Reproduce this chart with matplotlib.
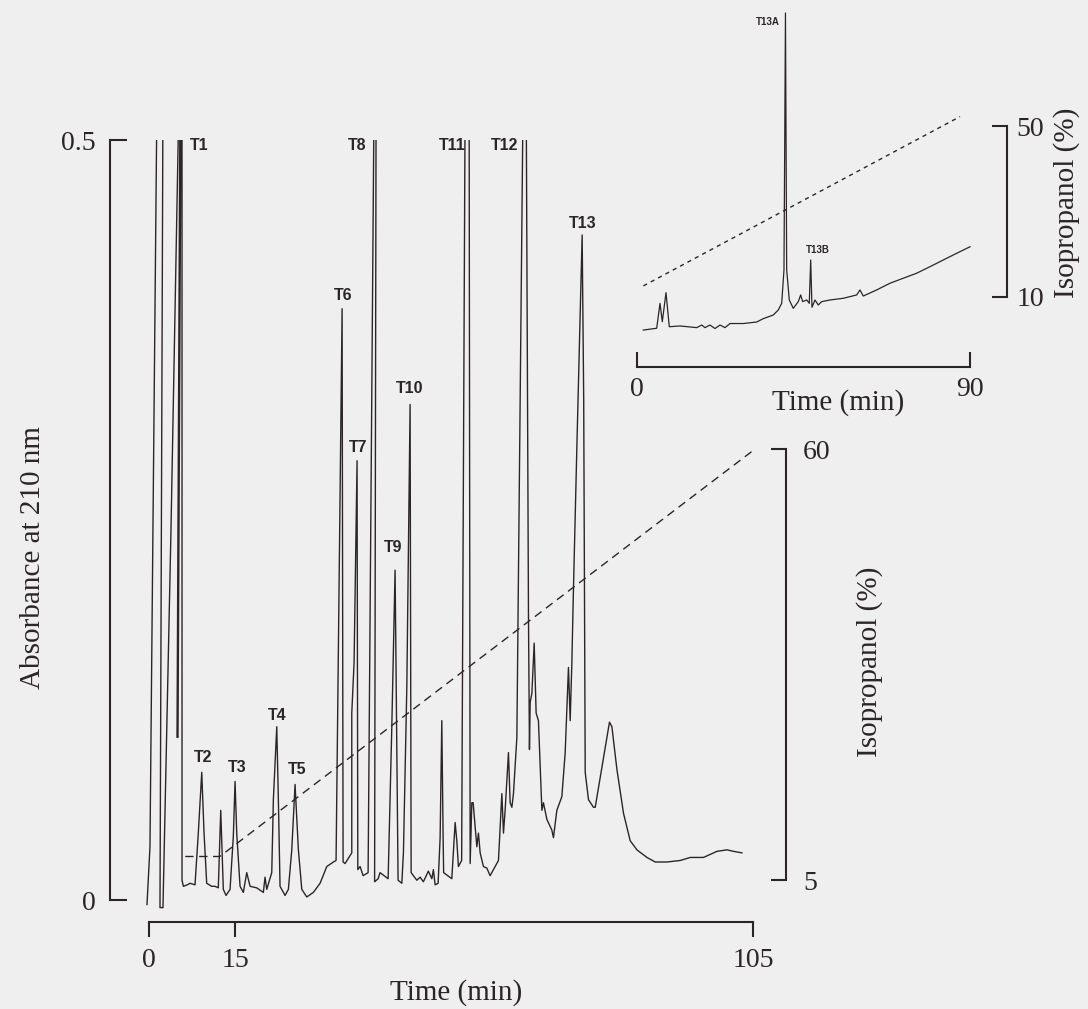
import numpy as np
import matplotlib
matplotlib.use('Agg')
import matplotlib.pyplot as plt

W, H = 1088, 1009
INK = '#2b2528'
BG = '#f0eff0'

# main run: time (min) / absorbance at 210 nm
# off-scale peaks are given as 0.53, the axes cut them at 0.5 like the recorder did
main_time = [-0.35, 0.17, 1.39, 2.43, 1.91, 2.43, 3.83, 5.22, 5.39, 4.87, 5.04, 5.57, 5.74, 5.74,
             5.98, 6.66, 7.13, 8.0, 8.57, 9.17, 9.57, 10.03, 10.9, 11.48, 12.05, 12.47, 12.92, 13.39,
             14.09, 14.66, 14.96, 15.25, 15.83, 16.4, 16.99, 17.57, 18.73, 19.88, 20.17, 20.47, 21.34,
             21.62, 22.21, 22.49, 22.78, 23.65, 24.23, 24.82, 25.39, 25.97, 26.56, 27.43, 28.57, 29.74,
             30.9, 32.05, 32.52, 33.57, 33.74, 34.09, 35.25, 35.25, 35.65, 36.17, 36.3, 36.7, 37.22,
             38.09, 39.13, 39.48, 39.22, 39.83, 40.17, 41.57, 42.21, 42.78, 43.08, 43.3, 43.95, 44.23,
             44.82, 45.39, 45.57, 46.56, 47.13, 47.7, 48.57, 49.17, 49.44, 49.74, 50.26, 50.61, 50.9,
             51.13, 51.22, 52.64, 53.22, 53.51, 53.79, 54.35, 54.96, 55.65, 55.83, 56.12, 56.35, 56.99,
             57.27, 57.57, 58.14, 58.73, 59.3, 60.17, 60.75, 61.34, 61.62, 61.91, 62.49, 62.78, 63.08,
             63.36, 63.95, 65.04, 65.57, 65.97, 66.14, 66.26, 66.56, 66.96, 67.3, 67.7, 68.3, 68.57,
             69.17, 70.03, 70.31, 70.9, 71.77, 72.35, 72.92, 73.22, 73.51, 73.74, 74.38, 75.3, 75.57,
             75.83, 76.4, 77.27, 77.57, 80.05, 80.47, 81.34, 82.49, 83.65, 84.82, 86.56, 88.0, 90.03,
             92.35, 94.09, 96.4, 98.73, 100.47, 101.63, 103.08]
main_abs = [-0.003, 0.035, 0.53, 0.53, -0.005, -0.005, 0.245, 0.53, 0.53, 0.107, 0.107, 0.53, 0.53, 0.013,
            0.009, 0.010, 0.011, 0.010, 0.044, 0.084, 0.044, 0.011, 0.009, 0.009, 0.008, 0.059, 0.007, 0.003,
            0.007, 0.042, 0.078, 0.044, 0.009, 0.005, 0.018, 0.009, 0.008, 0.005, 0.015, 0.007, 0.018,
            0.066, 0.114, 0.066, 0.009, 0.003, 0.007, 0.033, 0.076, 0.033, 0.007, 0.002, 0.005, 0.011,
            0.022, 0.025, 0.026, 0.389, 0.025, 0.024, 0.031, 0.123, 0.156, 0.289, 0.020, 0.022, 0.016,
            0.018, 0.53, 0.53, 0.012, 0.014, 0.018, 0.014, 0.114, 0.217, 0.097, 0.013, 0.011, 0.031,
            0.140, 0.326, 0.018, 0.013, 0.015, 0.012, 0.019, 0.014, 0.020, 0.010, 0.011, 0.041, 0.118,
            0.041, 0.018, 0.014, 0.051, 0.039, 0.022, 0.026, 0.53, 0.53, 0.024, 0.064, 0.064, 0.035,
            0.044, 0.031, 0.022, 0.021, 0.016, 0.022, 0.026, 0.070, 0.044, 0.059, 0.097, 0.064, 0.061,
            0.070, 0.107, 0.53, 0.53, 0.186, 0.099, 0.130, 0.136, 0.169, 0.123, 0.118, 0.059, 0.064,
            0.053, 0.046, 0.041, 0.059, 0.068, 0.097, 0.153, 0.118, 0.156, 0.197, 0.298, 0.4375, 0.329,
            0.084, 0.066, 0.061, 0.061, 0.117, 0.114, 0.086, 0.057, 0.039, 0.033, 0.028, 0.025, 0.025,
            0.026, 0.028, 0.028, 0.032, 0.033, 0.032, 0.031]
main_grad_time = [6.3, 12.3, 105]
main_grad_iso = [8.0, 8.0, 59.8]

# rechromatography of T13 (inset)
inset_time = [1.78, 5.4, 6.29, 6.91, 7.91, 8.8, 11.69, 16.2, 17.55, 18.44, 19.79, 21.14, 22.49,
              23.84, 25.19, 28.78, 32.4, 34.18, 36.88, 38.23, 39.15, 39.77, 40.17, 40.5, 41.2, 42.28,
              43.63, 44.28, 44.82, 45.9, 46.6, 46.98, 47.33, 48.14, 49.03, 49.95, 52.19, 55.78, 59.4,
              60.29, 61.18, 64.8, 68.39, 71.98, 75.59, 79.19, 82.78, 86.39, 90.0]
inset_abs = [0.0243, 0.0255, 0.0419, 0.0298, 0.0489, 0.0265, 0.0270, 0.0259, 0.0276, 0.0259, 0.0276,
             0.0253, 0.0276, 0.0259, 0.0286, 0.0286, 0.0296, 0.0318, 0.0342, 0.0375, 0.0419, 0.0638,
             0.2329, 0.0638, 0.0441, 0.0386, 0.0430, 0.0474, 0.0430, 0.0441, 0.0419, 0.0704, 0.0393,
             0.0441, 0.0408, 0.0430, 0.0441, 0.0452, 0.0474, 0.0507, 0.0467, 0.0507, 0.0551, 0.0584,
             0.0617, 0.0660, 0.0704, 0.0748, 0.0791]
inset_grad_time = [1.8, 87.3]
inset_grad_iso = [12.6, 52.2]

peak_names = ['T1', 'T2', 'T3', 'T4', 'T5', 'T6', 'T7', 'T8', 'T9', 'T10', 'T11', 'T12', 'T13']
peak_label_px = [(199, 145), (203, 758), (237, 768), (277, 715), (297, 770), (343, 295), (358, 447),
                 (357, 145), (393, 548), (410, 388), (452, 145), (505, 145), (583, 223)]


def lims(v0, p0, v1, p1, a, b):
    # value found at pixel a and pixel b, given two known value/pixel pairs
    k = (v1 - v0) / (p1 - p0)
    return v0 + (a - p0) * k, v0 + (b - p0) * k


def px_axes(fig, x0, x1, y_bot, y_top):
    return fig.add_axes([x0 / W, 1 - y_bot / H, (x1 - x0) / W, (y_bot - y_top) / H])


def ftext(x, y, s, **kw):
    fig.text(x / W, 1 - y / H, s, ha='center', va='center', color=INK, **kw)


plt.rcParams['font.family'] = ['Liberation Serif', 'DejaVu Serif']
fig = plt.figure(figsize=(W / 100, H / 100), dpi=100, facecolor=BG)

# ---- main chromatogram
ax = px_axes(fig, 103, 793, 930, 140)
ax.set_facecolor('none')
ax.set_xlim(lims(0, 149, 105, 753, 103, 793))
ax.set_ylim(lims(0, 900, 0.5, 140, 930, 140))
ax.plot(main_time, main_abs, color=INK, lw=1.0)
for s in ['top', 'right']:
    ax.spines[s].set_visible(False)
ax.spines['left'].set_position(('data', -6.8))
ax.spines['left'].set_bounds(0, 0.5)
ax.spines['bottom'].set_position(('data', -0.0145))
ax.spines['bottom'].set_bounds(0, 105)
for s in ['left', 'bottom']:
    ax.spines[s].set_linewidth(1.5)
    ax.spines[s].set_color(INK)
ax.set_xticks([0, 15, 105])
ax.set_yticks([0, 0.5])
ax.set_yticklabels(['0', '0.5'])
ax.tick_params(axis='y', direction='in', length=12, width=1.5, pad=10, labelsize=20, colors=INK)
ax.tick_params(axis='x', direction='out', length=11, width=1.5, pad=8, labelsize=20, colors=INK)

axr = ax.twinx()
axr.set_ylim(lims(5, 880, 60, 449, 930, 140))
axr.plot(main_grad_time, main_grad_iso, color=INK, lw=1.0, ls=(0, (6, 4)))
for s in ['top', 'left', 'bottom']:
    axr.spines[s].set_visible(False)
axr.spines['right'].set_position(('data', 110.8))
axr.spines['right'].set_bounds(5, 60)
axr.spines['right'].set_linewidth(1.5)
axr.spines['right'].set_color(INK)
axr.set_yticks([5, 60])
axr.tick_params(axis='y', direction='in', length=11, width=1.5, pad=12, labelsize=20, colors=INK)

for name, (x, y) in zip(peak_names, peak_label_px):
    ftext(x, y, name, fontsize=11.5, family='Liberation Sans', weight='bold')

ftext(33, 558, 'Absorbance at 210 nm', fontsize=21, rotation=90)
ftext(456, 993, 'Time (min)', fontsize=21)
ftext(870, 662, 'Isopropanol (%)', fontsize=21, rotation=90)

# ---- inset: T13 rerun
axi = px_axes(fig, 629, 1015, 375, 5)
axi.set_facecolor('none')
axi.set_xlim(lims(0, 636.7, 90, 970, 629, 1015))
axi.set_ylim(lims(0, 367, 0.2, 63, 375, 5))
axi.plot(inset_time, inset_abs, color=INK, lw=0.9)
for s in ['top', 'right', 'left']:
    axi.spines[s].set_visible(False)
axi.spines['bottom'].set_position(('data', 0))
axi.spines['bottom'].set_bounds(0, 90)
axi.spines['bottom'].set_linewidth(1.5)
axi.spines['bottom'].set_color(INK)
axi.set_yticks([])
axi.set_xticks([0, 90])
axi.tick_params(axis='x', direction='in', length=11, width=1.5, pad=7, labelsize=20, colors=INK)

axir = axi.twinx()
axir.set_ylim(lims(10, 297, 50, 126, 375, 5))
axir.plot(inset_grad_time, inset_grad_iso, color=INK, lw=1.0, ls=(0, (3, 3)))
for s in ['top', 'left', 'bottom']:
    axir.spines[s].set_visible(False)
axir.spines['right'].set_position(('data', 100))
axir.spines['right'].set_bounds(10, 50)
axir.spines['right'].set_linewidth(1.5)
axir.spines['right'].set_color(INK)
axir.set_yticks([10, 50])
axir.tick_params(axis='y', direction='in', length=11, width=1.5, pad=7, labelsize=20, colors=INK)

ftext(768, 22, 'T13A', fontsize=7, family='Liberation Sans', weight='bold')
ftext(818, 250, 'T13B', fontsize=7, family='Liberation Sans', weight='bold')
ftext(838, 403, 'Time (min)', fontsize=21)
ftext(1067, 203, 'Isopropanol (%)', fontsize=21, rotation=90)

fig.savefig('out.png', dpi=100, facecolor=BG)
